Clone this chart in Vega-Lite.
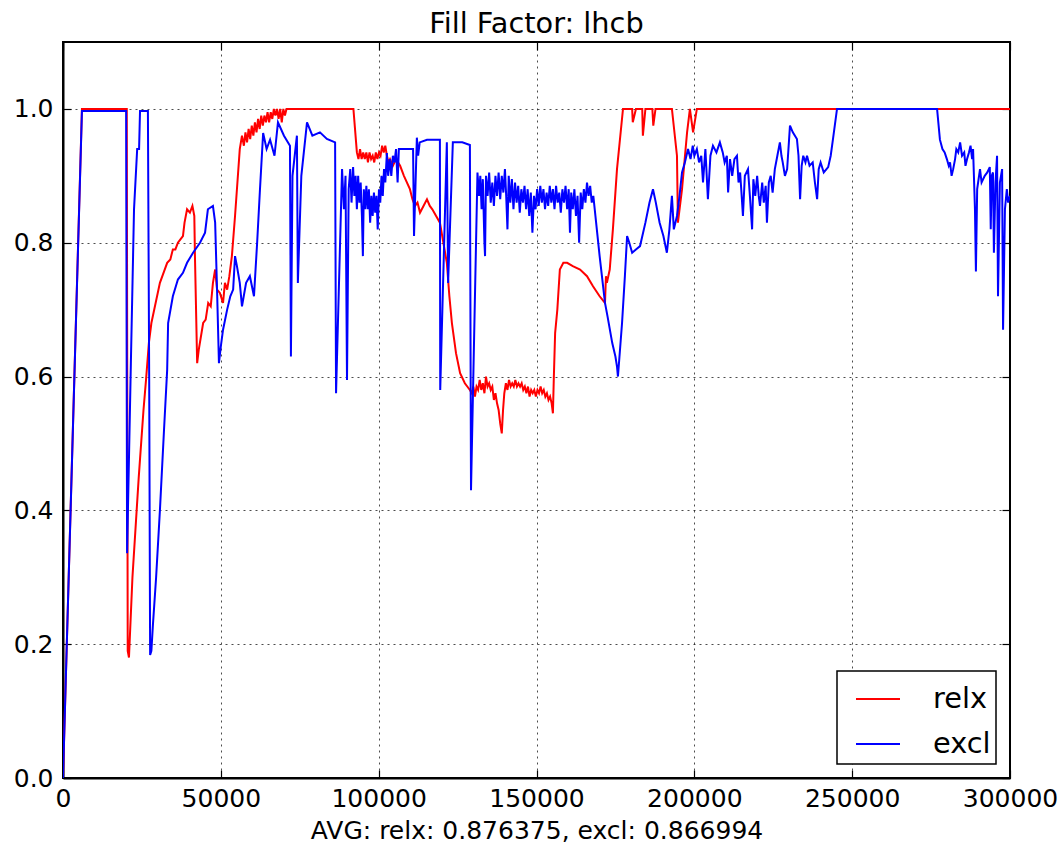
{
  "$schema": "https://vega.github.io/schema/vega-lite/v6.json",
  "width": 947,
  "height": 736,
  "autosize": {"type": "none"},
  "padding": {"left": 63, "top": 42, "right": 50, "bottom": 65},
  "background": "white",
  "title": {"text": "Fill Factor: lhcb", "fontSize": 28.8, "font": "DejaVu Sans", "fontWeight": "normal", "color": "#000", "anchor": "middle", "offset": 3},
  "config": {
    "font": "DejaVu Sans",
    "view": {"stroke": "black", "strokeWidth": 2},
    "axis": {
      "labelFont": "DejaVu Sans", "titleFont": "DejaVu Sans",
      "labelFontSize": 25, "titleFontSize": 25, "titleFontWeight": "normal",
      "labelColor": "#000", "titleColor": "#000",
      "tickColor": "#000", "tickSize": -8, "tickWidth": 1.2,
      "domainColor": "#000", "domainWidth": 2,
      "gridColor": "#000", "gridDash": [2, 4], "gridOpacity": 0.7, "gridWidth": 1,
      "labelFlush": false, "labelOverlap": false
    },
    "legend": {
      "orient": "bottom-right", "offset": 14, "padding": 5, "strokeColor": "#000", "strokeWidth": 1.5, "fillColor": "white",
      "labelFont": "DejaVu Sans", "labelFontSize": 28.8, "labelColor": "#000", "labelOffset": 32,
      "symbolType": "stroke", "symbolSize": 1936, "symbolStrokeWidth": 2, "symbolOffset": 13, "rowPadding": 7
    }
  },
  "datasets": {
    "ff": [
      {"series": "relx", "n": 0, "ff": 0},
      {"series": "relx", "n": 6000, "ff": 1.0},
      {"series": "relx", "n": 20200, "ff": 1.0},
      {"series": "relx", "n": 20500, "ff": 0.19},
      {"series": "relx", "n": 20900, "ff": 0.18},
      {"series": "relx", "n": 22000, "ff": 0.30},
      {"series": "relx", "n": 24000, "ff": 0.45},
      {"series": "relx", "n": 25500, "ff": 0.55},
      {"series": "relx", "n": 26300, "ff": 0.595},
      {"series": "relx", "n": 27200, "ff": 0.65},
      {"series": "relx", "n": 28000, "ff": 0.68},
      {"series": "relx", "n": 30700, "ff": 0.74},
      {"series": "relx", "n": 33000, "ff": 0.77},
      {"series": "relx", "n": 34000, "ff": 0.775},
      {"series": "relx", "n": 34800, "ff": 0.79},
      {"series": "relx", "n": 35600, "ff": 0.79},
      {"series": "relx", "n": 36400, "ff": 0.80},
      {"series": "relx", "n": 37200, "ff": 0.805},
      {"series": "relx", "n": 38000, "ff": 0.81},
      {"series": "relx", "n": 38500, "ff": 0.83},
      {"series": "relx", "n": 39300, "ff": 0.85},
      {"series": "relx", "n": 40200, "ff": 0.845},
      {"series": "relx", "n": 41000, "ff": 0.855},
      {"series": "relx", "n": 41600, "ff": 0.84},
      {"series": "relx", "n": 41800, "ff": 0.78},
      {"series": "relx", "n": 42500, "ff": 0.62},
      {"series": "relx", "n": 43000, "ff": 0.64},
      {"series": "relx", "n": 44400, "ff": 0.68},
      {"series": "relx", "n": 45200, "ff": 0.685},
      {"series": "relx", "n": 46000, "ff": 0.71},
      {"series": "relx", "n": 46800, "ff": 0.705},
      {"series": "relx", "n": 47500, "ff": 0.74},
      {"series": "relx", "n": 48200, "ff": 0.76},
      {"series": "relx", "n": 48800, "ff": 0.73},
      {"series": "relx", "n": 49700, "ff": 0.725},
      {"series": "relx", "n": 50700, "ff": 0.71},
      {"series": "relx", "n": 51300, "ff": 0.74},
      {"series": "relx", "n": 52000, "ff": 0.73},
      {"series": "relx", "n": 52700, "ff": 0.75},
      {"series": "relx", "n": 53500, "ff": 0.78},
      {"series": "relx", "n": 54500, "ff": 0.84},
      {"series": "relx", "n": 55100, "ff": 0.88},
      {"series": "relx", "n": 56000, "ff": 0.94},
      {"series": "relx", "n": 56700, "ff": 0.96},
      {"series": "relx", "n": 57300, "ff": 0.945},
      {"series": "relx", "n": 57800, "ff": 0.965},
      {"series": "relx", "n": 58300, "ff": 0.95},
      {"series": "relx", "n": 58800, "ff": 0.97},
      {"series": "relx", "n": 59300, "ff": 0.955},
      {"series": "relx", "n": 59800, "ff": 0.975},
      {"series": "relx", "n": 60300, "ff": 0.96},
      {"series": "relx", "n": 60800, "ff": 0.98},
      {"series": "relx", "n": 61300, "ff": 0.965},
      {"series": "relx", "n": 61800, "ff": 0.985},
      {"series": "relx", "n": 62300, "ff": 0.97},
      {"series": "relx", "n": 62800, "ff": 0.99},
      {"series": "relx", "n": 63300, "ff": 0.975},
      {"series": "relx", "n": 63800, "ff": 0.99},
      {"series": "relx", "n": 64300, "ff": 0.98},
      {"series": "relx", "n": 64800, "ff": 0.995},
      {"series": "relx", "n": 65300, "ff": 0.98},
      {"series": "relx", "n": 65800, "ff": 0.995},
      {"series": "relx", "n": 66300, "ff": 0.985},
      {"series": "relx", "n": 66800, "ff": 1.0},
      {"series": "relx", "n": 67300, "ff": 0.99},
      {"series": "relx", "n": 67800, "ff": 1.0},
      {"series": "relx", "n": 68300, "ff": 0.985},
      {"series": "relx", "n": 68800, "ff": 1.0},
      {"series": "relx", "n": 69300, "ff": 0.98},
      {"series": "relx", "n": 69800, "ff": 1.0},
      {"series": "relx", "n": 70300, "ff": 0.99},
      {"series": "relx", "n": 70800, "ff": 1.0},
      {"series": "relx", "n": 92000, "ff": 1.0},
      {"series": "relx", "n": 93100, "ff": 0.935},
      {"series": "relx", "n": 93600, "ff": 0.925},
      {"series": "relx", "n": 94100, "ff": 0.94},
      {"series": "relx", "n": 94600, "ff": 0.925},
      {"series": "relx", "n": 95100, "ff": 0.935},
      {"series": "relx", "n": 95600, "ff": 0.925},
      {"series": "relx", "n": 96100, "ff": 0.935},
      {"series": "relx", "n": 96600, "ff": 0.92},
      {"series": "relx", "n": 97100, "ff": 0.935},
      {"series": "relx", "n": 97600, "ff": 0.925},
      {"series": "relx", "n": 98100, "ff": 0.93},
      {"series": "relx", "n": 98600, "ff": 0.92},
      {"series": "relx", "n": 99100, "ff": 0.935},
      {"series": "relx", "n": 99600, "ff": 0.925},
      {"series": "relx", "n": 100100, "ff": 0.935},
      {"series": "relx", "n": 100600, "ff": 0.93},
      {"series": "relx", "n": 101100, "ff": 0.945},
      {"series": "relx", "n": 101600, "ff": 0.935},
      {"series": "relx", "n": 102100, "ff": 0.945},
      {"series": "relx", "n": 102600, "ff": 0.93},
      {"series": "relx", "n": 103100, "ff": 0.92},
      {"series": "relx", "n": 103600, "ff": 0.925},
      {"series": "relx", "n": 104500, "ff": 0.915},
      {"series": "relx", "n": 105500, "ff": 0.925},
      {"series": "relx", "n": 106800, "ff": 0.915},
      {"series": "relx", "n": 108000, "ff": 0.9},
      {"series": "relx", "n": 109900, "ff": 0.88},
      {"series": "relx", "n": 110700, "ff": 0.865},
      {"series": "relx", "n": 111500, "ff": 0.855},
      {"series": "relx", "n": 112300, "ff": 0.86},
      {"series": "relx", "n": 113100, "ff": 0.845},
      {"series": "relx", "n": 114200, "ff": 0.855},
      {"series": "relx", "n": 115300, "ff": 0.865},
      {"series": "relx", "n": 116200, "ff": 0.855},
      {"series": "relx", "n": 117000, "ff": 0.85},
      {"series": "relx", "n": 118200, "ff": 0.84},
      {"series": "relx", "n": 119400, "ff": 0.83},
      {"series": "relx", "n": 120500, "ff": 0.8},
      {"series": "relx", "n": 121600, "ff": 0.77},
      {"series": "relx", "n": 122400, "ff": 0.72},
      {"series": "relx", "n": 123200, "ff": 0.68},
      {"series": "relx", "n": 124500, "ff": 0.635},
      {"series": "relx", "n": 125800, "ff": 0.605},
      {"series": "relx", "n": 127300, "ff": 0.59},
      {"series": "relx", "n": 128900, "ff": 0.58},
      {"series": "relx", "n": 129500, "ff": 0.575},
      {"series": "relx", "n": 130000, "ff": 0.585},
      {"series": "relx", "n": 130500, "ff": 0.57},
      {"series": "relx", "n": 131000, "ff": 0.585},
      {"series": "relx", "n": 131500, "ff": 0.58},
      {"series": "relx", "n": 132000, "ff": 0.595},
      {"series": "relx", "n": 132500, "ff": 0.58},
      {"series": "relx", "n": 133000, "ff": 0.59},
      {"series": "relx", "n": 133500, "ff": 0.575},
      {"series": "relx", "n": 134000, "ff": 0.60},
      {"series": "relx", "n": 134500, "ff": 0.585},
      {"series": "relx", "n": 135000, "ff": 0.59},
      {"series": "relx", "n": 135500, "ff": 0.58},
      {"series": "relx", "n": 136000, "ff": 0.585},
      {"series": "relx", "n": 136500, "ff": 0.565},
      {"series": "relx", "n": 137000, "ff": 0.575},
      {"series": "relx", "n": 137500, "ff": 0.56},
      {"series": "relx", "n": 138000, "ff": 0.55},
      {"series": "relx", "n": 138500, "ff": 0.53},
      {"series": "relx", "n": 139000, "ff": 0.515},
      {"series": "relx", "n": 139400, "ff": 0.55},
      {"series": "relx", "n": 139800, "ff": 0.575},
      {"series": "relx", "n": 140300, "ff": 0.59},
      {"series": "relx", "n": 140800, "ff": 0.58},
      {"series": "relx", "n": 141300, "ff": 0.595},
      {"series": "relx", "n": 141800, "ff": 0.585},
      {"series": "relx", "n": 142300, "ff": 0.59},
      {"series": "relx", "n": 142800, "ff": 0.585},
      {"series": "relx", "n": 143300, "ff": 0.595},
      {"series": "relx", "n": 143800, "ff": 0.585},
      {"series": "relx", "n": 144300, "ff": 0.59},
      {"series": "relx", "n": 144800, "ff": 0.585},
      {"series": "relx", "n": 145300, "ff": 0.59},
      {"series": "relx", "n": 145800, "ff": 0.58},
      {"series": "relx", "n": 146300, "ff": 0.585},
      {"series": "relx", "n": 146800, "ff": 0.575},
      {"series": "relx", "n": 147300, "ff": 0.585},
      {"series": "relx", "n": 147800, "ff": 0.57},
      {"series": "relx", "n": 148300, "ff": 0.58},
      {"series": "relx", "n": 148800, "ff": 0.575},
      {"series": "relx", "n": 149300, "ff": 0.58},
      {"series": "relx", "n": 149800, "ff": 0.57},
      {"series": "relx", "n": 150300, "ff": 0.58},
      {"series": "relx", "n": 150800, "ff": 0.575},
      {"series": "relx", "n": 151300, "ff": 0.585},
      {"series": "relx", "n": 151800, "ff": 0.575},
      {"series": "relx", "n": 152300, "ff": 0.58},
      {"series": "relx", "n": 152800, "ff": 0.57},
      {"series": "relx", "n": 153300, "ff": 0.575},
      {"series": "relx", "n": 153800, "ff": 0.565},
      {"series": "relx", "n": 154300, "ff": 0.57},
      {"series": "relx", "n": 154800, "ff": 0.56},
      {"series": "relx", "n": 155200, "ff": 0.545},
      {"series": "relx", "n": 155500, "ff": 0.6},
      {"series": "relx", "n": 155900, "ff": 0.665},
      {"series": "relx", "n": 156600, "ff": 0.7},
      {"series": "relx", "n": 157400, "ff": 0.76},
      {"series": "relx", "n": 158500, "ff": 0.77},
      {"series": "relx", "n": 159700, "ff": 0.77},
      {"series": "relx", "n": 161500, "ff": 0.765},
      {"series": "relx", "n": 163800, "ff": 0.76},
      {"series": "relx", "n": 166000, "ff": 0.75},
      {"series": "relx", "n": 167900, "ff": 0.735},
      {"series": "relx", "n": 170000, "ff": 0.72},
      {"series": "relx", "n": 171700, "ff": 0.71},
      {"series": "relx", "n": 172000, "ff": 0.75},
      {"series": "relx", "n": 172300, "ff": 0.74},
      {"series": "relx", "n": 173200, "ff": 0.76},
      {"series": "relx", "n": 174200, "ff": 0.82},
      {"series": "relx", "n": 175500, "ff": 0.91},
      {"series": "relx", "n": 177400, "ff": 1.0},
      {"series": "relx", "n": 180300, "ff": 1.0},
      {"series": "relx", "n": 180500, "ff": 0.98},
      {"series": "relx", "n": 181500, "ff": 1.0},
      {"series": "relx", "n": 183500, "ff": 1.0},
      {"series": "relx", "n": 183700, "ff": 0.96},
      {"series": "relx", "n": 184500, "ff": 1.0},
      {"series": "relx", "n": 186700, "ff": 1.0},
      {"series": "relx", "n": 187000, "ff": 0.975},
      {"series": "relx", "n": 187700, "ff": 1.0},
      {"series": "relx", "n": 192900, "ff": 1.0},
      {"series": "relx", "n": 194500, "ff": 0.93},
      {"series": "relx", "n": 194800, "ff": 0.83},
      {"series": "relx", "n": 196100, "ff": 0.88},
      {"series": "relx", "n": 197700, "ff": 0.965},
      {"series": "relx", "n": 198600, "ff": 1.0},
      {"series": "relx", "n": 199600, "ff": 0.965},
      {"series": "relx", "n": 200800, "ff": 1.0},
      {"series": "relx", "n": 300000, "ff": 1.0},
      {"series": "excl", "n": 0, "ff": 0},
      {"series": "excl", "n": 6000, "ff": 0.997},
      {"series": "excl", "n": 20000, "ff": 0.997},
      {"series": "excl", "n": 20300, "ff": 0.336},
      {"series": "excl", "n": 21500, "ff": 0.62},
      {"series": "excl", "n": 22500, "ff": 0.85},
      {"series": "excl", "n": 23500, "ff": 0.94},
      {"series": "excl", "n": 24100, "ff": 0.94},
      {"series": "excl", "n": 24400, "ff": 0.997},
      {"series": "excl", "n": 26900, "ff": 0.997},
      {"series": "excl", "n": 27300, "ff": 0.6},
      {"series": "excl", "n": 27600, "ff": 0.184},
      {"series": "excl", "n": 28000, "ff": 0.19},
      {"series": "excl", "n": 28500, "ff": 0.23},
      {"series": "excl", "n": 29500, "ff": 0.30},
      {"series": "excl", "n": 30700, "ff": 0.40},
      {"series": "excl", "n": 32000, "ff": 0.52},
      {"series": "excl", "n": 33000, "ff": 0.61},
      {"series": "excl", "n": 33300, "ff": 0.68},
      {"series": "excl", "n": 34800, "ff": 0.72},
      {"series": "excl", "n": 36400, "ff": 0.745},
      {"series": "excl", "n": 38000, "ff": 0.755},
      {"series": "excl", "n": 39300, "ff": 0.77},
      {"series": "excl", "n": 41200, "ff": 0.785},
      {"series": "excl", "n": 43400, "ff": 0.80},
      {"series": "excl", "n": 45000, "ff": 0.815},
      {"series": "excl", "n": 45900, "ff": 0.85},
      {"series": "excl", "n": 47500, "ff": 0.855},
      {"series": "excl", "n": 48200, "ff": 0.83},
      {"series": "excl", "n": 48800, "ff": 0.73},
      {"series": "excl", "n": 49400, "ff": 0.62},
      {"series": "excl", "n": 50000, "ff": 0.645},
      {"series": "excl", "n": 50700, "ff": 0.67},
      {"series": "excl", "n": 52000, "ff": 0.70},
      {"series": "excl", "n": 53000, "ff": 0.72},
      {"series": "excl", "n": 53900, "ff": 0.73},
      {"series": "excl", "n": 54500, "ff": 0.78},
      {"series": "excl", "n": 55100, "ff": 0.765},
      {"series": "excl", "n": 56000, "ff": 0.74},
      {"series": "excl", "n": 56700, "ff": 0.705},
      {"series": "excl", "n": 58000, "ff": 0.74},
      {"series": "excl", "n": 59200, "ff": 0.75},
      {"series": "excl", "n": 60500, "ff": 0.72},
      {"series": "excl", "n": 61500, "ff": 0.80},
      {"series": "excl", "n": 62400, "ff": 0.88},
      {"series": "excl", "n": 63400, "ff": 0.964},
      {"series": "excl", "n": 64500, "ff": 0.94},
      {"series": "excl", "n": 65600, "ff": 0.954},
      {"series": "excl", "n": 67000, "ff": 0.93},
      {"series": "excl", "n": 68100, "ff": 0.98},
      {"series": "excl", "n": 70000, "ff": 0.96},
      {"series": "excl", "n": 71900, "ff": 0.945},
      {"series": "excl", "n": 72200, "ff": 0.63},
      {"series": "excl", "n": 72700, "ff": 0.90},
      {"series": "excl", "n": 74100, "ff": 0.96},
      {"series": "excl", "n": 74400, "ff": 0.74},
      {"series": "excl", "n": 75500, "ff": 0.90},
      {"series": "excl", "n": 77300, "ff": 0.98},
      {"series": "excl", "n": 79000, "ff": 0.96},
      {"series": "excl", "n": 81400, "ff": 0.965},
      {"series": "excl", "n": 83600, "ff": 0.955},
      {"series": "excl", "n": 86200, "ff": 0.95},
      {"series": "excl", "n": 86500, "ff": 0.575},
      {"series": "excl", "n": 88400, "ff": 0.91},
      {"series": "excl", "n": 89000, "ff": 0.85},
      {"series": "excl", "n": 89500, "ff": 0.90},
      {"series": "excl", "n": 89970, "ff": 0.595},
      {"series": "excl", "n": 90500, "ff": 0.88},
      {"series": "excl", "n": 91000, "ff": 0.91},
      {"series": "excl", "n": 91400, "ff": 0.86},
      {"series": "excl", "n": 91900, "ff": 0.913},
      {"series": "excl", "n": 92300, "ff": 0.87},
      {"series": "excl", "n": 92700, "ff": 0.90},
      {"series": "excl", "n": 93100, "ff": 0.85},
      {"series": "excl", "n": 93500, "ff": 0.90},
      {"series": "excl", "n": 93900, "ff": 0.86},
      {"series": "excl", "n": 94300, "ff": 0.89},
      {"series": "excl", "n": 94700, "ff": 0.84},
      {"series": "excl", "n": 95000, "ff": 0.78},
      {"series": "excl", "n": 95300, "ff": 0.88},
      {"series": "excl", "n": 95700, "ff": 0.85},
      {"series": "excl", "n": 96100, "ff": 0.885},
      {"series": "excl", "n": 96500, "ff": 0.85},
      {"series": "excl", "n": 96900, "ff": 0.88},
      {"series": "excl", "n": 97300, "ff": 0.83},
      {"series": "excl", "n": 97700, "ff": 0.87},
      {"series": "excl", "n": 98100, "ff": 0.84},
      {"series": "excl", "n": 98500, "ff": 0.875},
      {"series": "excl", "n": 98900, "ff": 0.845},
      {"series": "excl", "n": 99300, "ff": 0.87},
      {"series": "excl", "n": 99700, "ff": 0.82},
      {"series": "excl", "n": 100100, "ff": 0.88},
      {"series": "excl", "n": 100500, "ff": 0.86},
      {"series": "excl", "n": 100900, "ff": 0.90},
      {"series": "excl", "n": 101300, "ff": 0.87},
      {"series": "excl", "n": 101700, "ff": 0.91},
      {"series": "excl", "n": 102100, "ff": 0.89},
      {"series": "excl", "n": 102600, "ff": 0.934},
      {"series": "excl", "n": 103000, "ff": 0.90},
      {"series": "excl", "n": 103500, "ff": 0.925},
      {"series": "excl", "n": 104000, "ff": 0.90},
      {"series": "excl", "n": 104500, "ff": 0.93},
      {"series": "excl", "n": 105000, "ff": 0.92},
      {"series": "excl", "n": 105500, "ff": 0.94},
      {"series": "excl", "n": 106000, "ff": 0.89},
      {"series": "excl", "n": 106400, "ff": 0.94},
      {"series": "excl", "n": 107400, "ff": 0.94},
      {"series": "excl", "n": 110900, "ff": 0.94},
      {"series": "excl", "n": 111200, "ff": 0.81},
      {"series": "excl", "n": 112100, "ff": 0.957},
      {"series": "excl", "n": 112500, "ff": 0.93},
      {"series": "excl", "n": 113000, "ff": 0.95},
      {"series": "excl", "n": 115300, "ff": 0.954},
      {"series": "excl", "n": 119400, "ff": 0.954},
      {"series": "excl", "n": 119500, "ff": 0.58},
      {"series": "excl", "n": 121600, "ff": 0.95},
      {"series": "excl", "n": 122000, "ff": 0.74},
      {"series": "excl", "n": 123500, "ff": 0.95},
      {"series": "excl", "n": 126500, "ff": 0.95},
      {"series": "excl", "n": 128900, "ff": 0.946},
      {"series": "excl", "n": 129250, "ff": 0.43},
      {"series": "excl", "n": 131300, "ff": 0.905},
      {"series": "excl", "n": 131800, "ff": 0.87},
      {"series": "excl", "n": 132200, "ff": 0.90},
      {"series": "excl", "n": 132600, "ff": 0.85},
      {"series": "excl", "n": 133000, "ff": 0.895},
      {"series": "excl", "n": 133500, "ff": 0.80},
      {"series": "excl", "n": 133700, "ff": 0.78},
      {"series": "excl", "n": 134000, "ff": 0.90},
      {"series": "excl", "n": 134500, "ff": 0.87},
      {"series": "excl", "n": 135000, "ff": 0.905},
      {"series": "excl", "n": 135500, "ff": 0.86},
      {"series": "excl", "n": 136000, "ff": 0.89},
      {"series": "excl", "n": 136500, "ff": 0.855},
      {"series": "excl", "n": 137000, "ff": 0.90},
      {"series": "excl", "n": 137500, "ff": 0.87},
      {"series": "excl", "n": 138000, "ff": 0.905},
      {"series": "excl", "n": 138500, "ff": 0.865},
      {"series": "excl", "n": 139000, "ff": 0.90},
      {"series": "excl", "n": 139500, "ff": 0.875},
      {"series": "excl", "n": 140000, "ff": 0.91},
      {"series": "excl", "n": 140400, "ff": 0.87},
      {"series": "excl", "n": 140800, "ff": 0.82},
      {"series": "excl", "n": 141200, "ff": 0.90},
      {"series": "excl", "n": 141700, "ff": 0.86},
      {"series": "excl", "n": 142200, "ff": 0.895},
      {"series": "excl", "n": 142700, "ff": 0.85},
      {"series": "excl", "n": 143200, "ff": 0.89},
      {"series": "excl", "n": 143700, "ff": 0.86},
      {"series": "excl", "n": 144200, "ff": 0.885},
      {"series": "excl", "n": 144700, "ff": 0.845},
      {"series": "excl", "n": 145200, "ff": 0.88},
      {"series": "excl", "n": 145700, "ff": 0.86},
      {"series": "excl", "n": 146200, "ff": 0.885},
      {"series": "excl", "n": 146700, "ff": 0.85},
      {"series": "excl", "n": 147200, "ff": 0.88},
      {"series": "excl", "n": 147700, "ff": 0.84},
      {"series": "excl", "n": 148200, "ff": 0.875},
      {"series": "excl", "n": 148700, "ff": 0.815},
      {"series": "excl", "n": 149200, "ff": 0.87},
      {"series": "excl", "n": 149700, "ff": 0.85},
      {"series": "excl", "n": 150200, "ff": 0.88},
      {"series": "excl", "n": 150700, "ff": 0.855},
      {"series": "excl", "n": 151200, "ff": 0.885},
      {"series": "excl", "n": 151700, "ff": 0.86},
      {"series": "excl", "n": 152200, "ff": 0.88},
      {"series": "excl", "n": 152700, "ff": 0.85},
      {"series": "excl", "n": 153200, "ff": 0.875},
      {"series": "excl", "n": 153700, "ff": 0.855},
      {"series": "excl", "n": 154200, "ff": 0.885},
      {"series": "excl", "n": 154700, "ff": 0.86},
      {"series": "excl", "n": 155200, "ff": 0.88},
      {"series": "excl", "n": 155700, "ff": 0.85},
      {"series": "excl", "n": 156200, "ff": 0.885},
      {"series": "excl", "n": 156700, "ff": 0.86},
      {"series": "excl", "n": 157200, "ff": 0.875},
      {"series": "excl", "n": 157700, "ff": 0.845},
      {"series": "excl", "n": 158200, "ff": 0.88},
      {"series": "excl", "n": 158700, "ff": 0.86},
      {"series": "excl", "n": 159200, "ff": 0.885},
      {"series": "excl", "n": 159700, "ff": 0.85},
      {"series": "excl", "n": 160200, "ff": 0.88},
      {"series": "excl", "n": 160600, "ff": 0.815},
      {"series": "excl", "n": 161000, "ff": 0.875},
      {"series": "excl", "n": 161500, "ff": 0.85},
      {"series": "excl", "n": 162000, "ff": 0.88},
      {"series": "excl", "n": 162500, "ff": 0.84},
      {"series": "excl", "n": 163000, "ff": 0.87},
      {"series": "excl", "n": 163500, "ff": 0.80},
      {"series": "excl", "n": 164000, "ff": 0.875},
      {"series": "excl", "n": 164500, "ff": 0.85},
      {"series": "excl", "n": 165000, "ff": 0.88},
      {"series": "excl", "n": 165500, "ff": 0.86},
      {"series": "excl", "n": 166000, "ff": 0.89},
      {"series": "excl", "n": 166500, "ff": 0.87},
      {"series": "excl", "n": 167000, "ff": 0.885},
      {"series": "excl", "n": 167500, "ff": 0.86},
      {"series": "excl", "n": 168000, "ff": 0.87},
      {"series": "excl", "n": 170000, "ff": 0.78},
      {"series": "excl", "n": 171700, "ff": 0.71},
      {"series": "excl", "n": 172500, "ff": 0.69},
      {"series": "excl", "n": 174000, "ff": 0.65},
      {"series": "excl", "n": 175000, "ff": 0.63},
      {"series": "excl", "n": 175500, "ff": 0.615},
      {"series": "excl", "n": 175800, "ff": 0.60},
      {"series": "excl", "n": 177100, "ff": 0.68},
      {"series": "excl", "n": 178000, "ff": 0.75},
      {"series": "excl", "n": 178700, "ff": 0.81},
      {"series": "excl", "n": 179400, "ff": 0.80},
      {"series": "excl", "n": 180300, "ff": 0.785},
      {"series": "excl", "n": 181500, "ff": 0.79},
      {"series": "excl", "n": 182800, "ff": 0.795},
      {"series": "excl", "n": 184500, "ff": 0.83},
      {"series": "excl", "n": 185800, "ff": 0.86},
      {"series": "excl", "n": 186900, "ff": 0.88},
      {"series": "excl", "n": 187800, "ff": 0.86},
      {"series": "excl", "n": 189000, "ff": 0.83},
      {"series": "excl", "n": 190200, "ff": 0.81},
      {"series": "excl", "n": 191300, "ff": 0.785},
      {"series": "excl", "n": 192100, "ff": 0.82},
      {"series": "excl", "n": 192900, "ff": 0.87},
      {"series": "excl", "n": 193500, "ff": 0.82},
      {"series": "excl", "n": 194500, "ff": 0.84},
      {"series": "excl", "n": 195300, "ff": 0.87},
      {"series": "excl", "n": 196100, "ff": 0.905},
      {"series": "excl", "n": 197000, "ff": 0.92},
      {"series": "excl", "n": 198000, "ff": 0.94},
      {"series": "excl", "n": 198800, "ff": 0.925},
      {"series": "excl", "n": 199500, "ff": 0.945},
      {"series": "excl", "n": 200000, "ff": 0.93},
      {"series": "excl", "n": 200800, "ff": 0.94},
      {"series": "excl", "n": 201500, "ff": 0.92},
      {"series": "excl", "n": 202200, "ff": 0.93},
      {"series": "excl", "n": 202750, "ff": 0.89},
      {"series": "excl", "n": 203500, "ff": 0.94},
      {"series": "excl", "n": 204300, "ff": 0.865},
      {"series": "excl", "n": 205100, "ff": 0.93},
      {"series": "excl", "n": 205900, "ff": 0.945},
      {"series": "excl", "n": 207000, "ff": 0.935},
      {"series": "excl", "n": 208100, "ff": 0.95},
      {"series": "excl", "n": 209000, "ff": 0.935},
      {"series": "excl", "n": 209600, "ff": 0.92},
      {"series": "excl", "n": 210300, "ff": 0.93},
      {"series": "excl", "n": 210700, "ff": 0.875},
      {"series": "excl", "n": 211300, "ff": 0.925},
      {"series": "excl", "n": 212000, "ff": 0.90},
      {"series": "excl", "n": 212700, "ff": 0.925},
      {"series": "excl", "n": 213500, "ff": 0.93},
      {"series": "excl", "n": 214000, "ff": 0.89},
      {"series": "excl", "n": 214500, "ff": 0.905},
      {"series": "excl", "n": 215000, "ff": 0.87},
      {"series": "excl", "n": 215400, "ff": 0.84},
      {"series": "excl", "n": 216000, "ff": 0.90},
      {"series": "excl", "n": 217000, "ff": 0.91},
      {"series": "excl", "n": 217600, "ff": 0.87},
      {"series": "excl", "n": 218300, "ff": 0.82},
      {"series": "excl", "n": 218700, "ff": 0.895},
      {"series": "excl", "n": 219300, "ff": 0.87},
      {"series": "excl", "n": 219900, "ff": 0.90},
      {"series": "excl", "n": 220400, "ff": 0.87},
      {"series": "excl", "n": 220800, "ff": 0.855},
      {"series": "excl", "n": 221500, "ff": 0.89},
      {"series": "excl", "n": 222000, "ff": 0.86},
      {"series": "excl", "n": 222600, "ff": 0.885},
      {"series": "excl", "n": 223000, "ff": 0.83},
      {"series": "excl", "n": 223600, "ff": 0.89},
      {"series": "excl", "n": 224200, "ff": 0.90},
      {"series": "excl", "n": 224800, "ff": 0.875},
      {"series": "excl", "n": 225500, "ff": 0.91},
      {"series": "excl", "n": 226300, "ff": 0.93},
      {"series": "excl", "n": 227100, "ff": 0.95},
      {"series": "excl", "n": 227600, "ff": 0.93},
      {"series": "excl", "n": 228000, "ff": 0.92},
      {"series": "excl", "n": 228700, "ff": 0.90},
      {"series": "excl", "n": 229400, "ff": 0.91},
      {"series": "excl", "n": 230300, "ff": 0.975},
      {"series": "excl", "n": 231200, "ff": 0.965},
      {"series": "excl", "n": 232500, "ff": 0.955},
      {"series": "excl", "n": 233000, "ff": 0.93},
      {"series": "excl", "n": 233500, "ff": 0.865},
      {"series": "excl", "n": 234000, "ff": 0.915},
      {"series": "excl", "n": 234500, "ff": 0.93},
      {"series": "excl", "n": 235200, "ff": 0.92},
      {"series": "excl", "n": 235700, "ff": 0.93},
      {"series": "excl", "n": 236500, "ff": 0.915},
      {"series": "excl", "n": 237500, "ff": 0.92},
      {"series": "excl", "n": 238200, "ff": 0.89},
      {"series": "excl", "n": 238900, "ff": 0.865},
      {"series": "excl", "n": 239400, "ff": 0.91},
      {"series": "excl", "n": 240000, "ff": 0.92},
      {"series": "excl", "n": 241000, "ff": 0.905},
      {"series": "excl", "n": 242400, "ff": 0.913},
      {"series": "excl", "n": 243200, "ff": 0.93},
      {"series": "excl", "n": 243900, "ff": 0.954},
      {"series": "excl", "n": 245200, "ff": 1.0},
      {"series": "excl", "n": 276900, "ff": 1.0},
      {"series": "excl", "n": 277800, "ff": 0.954},
      {"series": "excl", "n": 278600, "ff": 0.94},
      {"series": "excl", "n": 279300, "ff": 0.935},
      {"series": "excl", "n": 280000, "ff": 0.925},
      {"series": "excl", "n": 280600, "ff": 0.915},
      {"series": "excl", "n": 281000, "ff": 0.92},
      {"series": "excl", "n": 281500, "ff": 0.90},
      {"series": "excl", "n": 282000, "ff": 0.91},
      {"series": "excl", "n": 282600, "ff": 0.925},
      {"series": "excl", "n": 283000, "ff": 0.94},
      {"series": "excl", "n": 283600, "ff": 0.935},
      {"series": "excl", "n": 284200, "ff": 0.95},
      {"series": "excl", "n": 284800, "ff": 0.93},
      {"series": "excl", "n": 285500, "ff": 0.935},
      {"series": "excl", "n": 285900, "ff": 0.915},
      {"series": "excl", "n": 286400, "ff": 0.925},
      {"series": "excl", "n": 287000, "ff": 0.935},
      {"series": "excl", "n": 287500, "ff": 0.945},
      {"series": "excl", "n": 288000, "ff": 0.925},
      {"series": "excl", "n": 288300, "ff": 0.94},
      {"series": "excl", "n": 288900, "ff": 0.85},
      {"series": "excl", "n": 289200, "ff": 0.757},
      {"series": "excl", "n": 289600, "ff": 0.88},
      {"series": "excl", "n": 290500, "ff": 0.91},
      {"series": "excl", "n": 291000, "ff": 0.89},
      {"series": "excl", "n": 292000, "ff": 0.90},
      {"series": "excl", "n": 292800, "ff": 0.905},
      {"series": "excl", "n": 293600, "ff": 0.913},
      {"series": "excl", "n": 293900, "ff": 0.82},
      {"series": "excl", "n": 294200, "ff": 0.90},
      {"series": "excl", "n": 294600, "ff": 0.905},
      {"series": "excl", "n": 294900, "ff": 0.785},
      {"series": "excl", "n": 295400, "ff": 0.89},
      {"series": "excl", "n": 295900, "ff": 0.93},
      {"series": "excl", "n": 296200, "ff": 0.72},
      {"series": "excl", "n": 296800, "ff": 0.89},
      {"series": "excl", "n": 297500, "ff": 0.91},
      {"series": "excl", "n": 297800, "ff": 0.67},
      {"series": "excl", "n": 298400, "ff": 0.85},
      {"series": "excl", "n": 299000, "ff": 0.88},
      {"series": "excl", "n": 299400, "ff": 0.86},
      {"series": "excl", "n": 300000, "ff": 0.87}
    ]
  },
  "data": {"name": "ff"},
  "layer": [
    {
      "transform": [{"filter": "datum.series === 'relx'"}],
      "mark": {"type": "line", "strokeWidth": 2, "clip": true},
      "encoding": {
        "x": {"field": "n", "type": "quantitative", "scale": {"domain": [0, 300000], "nice": false},
          "axis": {"orient": "bottom", "title": "AVG: relx: 0.876375, excl: 0.866994", "values": [0, 50000, 100000, 150000, 200000, 250000, 300000], "format": "d", "grid": true, "labelPadding": 16, "titlePadding": 7}},
        "y": {"field": "ff", "type": "quantitative", "scale": {"domain": [0, 1.1], "nice": false, "zero": false},
          "axis": {"orient": "left", "title": null, "values": [0, 0.2, 0.4, 0.6, 0.8, 1.0], "format": ".1f", "grid": true, "labelPadding": 18}},
        "color": {"field": "series", "type": "nominal", "title": null, "scale": {"domain": ["relx", "excl"], "range": ["#ff0000", "#0000ff"]}},
        "order": {"field": "n", "type": "quantitative"}
      }
    },
    {
      "transform": [{"filter": "datum.series === 'excl'"}],
      "mark": {"type": "line", "strokeWidth": 2, "clip": true},
      "encoding": {
        "x": {"field": "n", "type": "quantitative", "axis": null},
        "y": {"field": "ff", "type": "quantitative", "axis": null},
        "color": {"field": "series", "type": "nominal", "title": null},
        "order": {"field": "n", "type": "quantitative"}
      }
    },
    {
      "mark": {"type": "point", "opacity": 0},
      "encoding": {
        "x": {"field": "n", "type": "quantitative", "axis": {"orient": "top", "title": null, "values": [0, 50000, 100000, 150000, 200000, 250000, 300000], "labels": false, "grid": false, "domain": false}},
        "y": {"field": "ff", "type": "quantitative", "axis": {"orient": "right", "title": null, "values": [0, 0.2, 0.4, 0.6, 0.8, 1.0], "labels": false, "grid": false, "domain": false}}
      }
    }
  ],
  "resolve": {"axis": {"x": "independent", "y": "independent"}}
}
